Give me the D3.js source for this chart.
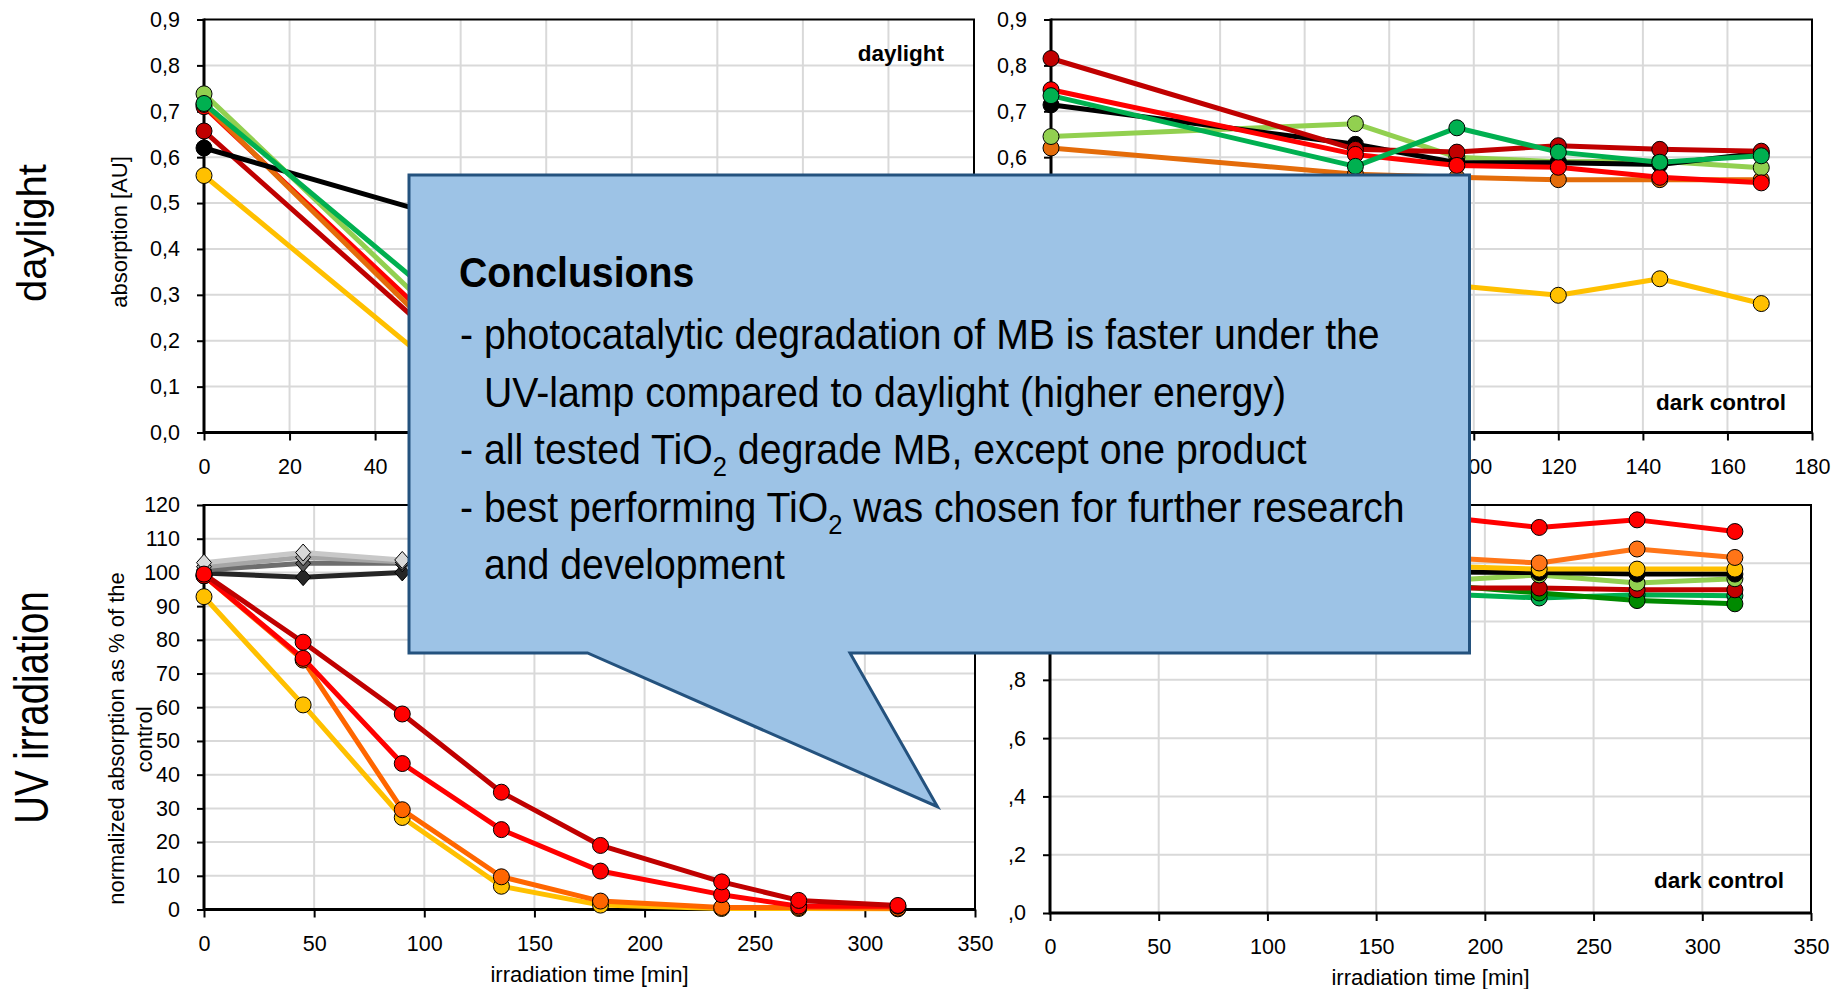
<!DOCTYPE html>
<html>
<head>
<meta charset="utf-8">
<script src="https://cdn.jsdelivr.net/npm/d3@7"></script>
<style>
  body { margin: 0; background: #fff; }
  svg text { font-family: "Liberation Sans", Arial, sans-serif; fill: #000; }
  .grid line { stroke: #D9D9D9; stroke-width: 2px; }
  .tick line { stroke: #000; stroke-width: 2px; }
  .tick text { font-size: 21.5px; font-family: "Liberation Sans", Arial, sans-serif; }
</style>
</head>
<body>
<script>
// ---- data ----
var dayTimes = [0, 72, 96, 120, 144, 168];
var dayTicksX = [0, 20, 40, 60, 80, 100, 120, 140, 160, 180];
var absTicksY = [0, 0.1, 0.2, 0.3, 0.4, 0.5, 0.6, 0.7, 0.8, 0.9];

// daylight (top left)
var dlYellow     = [0.56, 0.005, 0.01, 0.01, 0.01, 0.01];
var dlDarkRed    = [0.657, 0.06, 0.05, 0.04, 0.03, 0.03];
var dlRed        = [0.71, 0.08, 0.06, 0.05, 0.04, 0.03];
var dlOrange     = [0.715, 0.055, 0.04, 0.03, 0.03, 0.02];
var dlBlack      = [0.62, 0.427, 0.40, 0.38, 0.36, 0.34];
var dlLightGreen = [0.738, 0.10, 0.08, 0.06, 0.05, 0.04];
var dlGreen      = [0.717, 0.156, 0.12, 0.09, 0.07, 0.06];

// daylight dark control (top right)
var dcYellow     = [0.36, 0.33, 0.32, 0.299, 0.335, 0.281];
var dcOrange     = [0.62, 0.563, 0.556, 0.551, 0.551, 0.551];
var dcLightGreen = [0.645, 0.673, 0.60, 0.59, 0.591, 0.577];
var dcBlack      = [0.714, 0.628, 0.588, 0.588, 0.584, 0.609];
var dcDarkRed    = [0.815, 0.617, 0.611, 0.625, 0.617, 0.613];
var dcRed        = [0.747, 0.606, 0.582, 0.578, 0.556, 0.544];
var dcGreen      = [0.734, 0.58, 0.664, 0.611, 0.589, 0.603];

// UV irradiation (bottom left)
var uvTimes = [0, 45, 90, 135, 180, 235, 270, 315];
var uvTicksX = [0, 50, 100, 150, 200, 250, 300, 350];
var pctTicksY = [0, 10, 20, 30, 40, 50, 60, 70, 80, 90, 100, 110, 120];
var uvGray1   = [102.9, 105.9, 103.7, 103, 103, 102, 102, 102];
var uvGray2   = [101.7, 104.5, 103.2, 102.5, 102, 102, 101.5, 101.5];
var uvGray3   = [100.7, 102.7, 102.7, 102, 101.5, 101, 101, 101];
var uvGray4   = [99.8, 98.6, 100, 100, 99.5, 100, 99.5, 100];
var uvYellow  = [92.8, 60.7, 27.3, 6.9, 1.3, 0.3, 0.3, 0.2];
var uvOrange  = [99, 74, 29.6, 9.7, 2.5, 0.6, 0.6, 0.4];
var uvRed     = [99, 74.5, 43.3, 23.7, 11.4, 4.4, 1.0, 1.0];
var uvDarkRed = [99.5, 79.3, 58, 34.8, 19, 8.2, 2.7, 1.2];

// UV dark control (bottom right)
var ucTimes = [0, 45, 90, 135, 180, 225, 270, 315];
var ucTicksY = [0, 0.2, 0.4, 0.6, 0.8, 1.0, 1.2, 1.4];
var ucTeal       = [1.10, 1.09, 1.10, 1.09, 1.095, 1.081, 1.092, 1.089];
var ucDarkGreen  = [1.15, 1.14, 1.13, 1.13, 1.125, 1.098, 1.072, 1.061];
var ucDarkRed    = [1.12, 1.11, 1.12, 1.11, 1.115, 1.115, 1.109, 1.109];
var ucLightGreen = [1.17, 1.16, 1.15, 1.14, 1.14, 1.16, 1.132, 1.147];
var ucBlack      = [1.17, 1.17, 1.17, 1.17, 1.17, 1.168, 1.163, 1.163];
var ucYellow     = [1.19, 1.19, 1.19, 1.19, 1.19, 1.18, 1.18, 1.18];
var ucOrange     = [1.22, 1.21, 1.22, 1.21, 1.22, 1.201, 1.249, 1.22];
var ucRed        = [1.33, 1.34, 1.36, 1.35, 1.36, 1.323, 1.349, 1.309];

var calloutLines = [
  [["Conclusions", 0]],
  [["- photocatalytic degradation of MB is faster under the", 0]],
  [["UV-lamp compared to daylight (higher energy)", 0]],
  [["- all tested TiO", 0], ["2", 1], [" degrade MB, except one product", 0]],
  [["- best performing TiO", 0], ["2", 1], [" was chosen for further research", 0]],
  [["and development", 0]]
];

// ---- drawing ----
var svg = d3.select("body").append("svg")
    .attr("width", 1838)
    .attr("height", 989);

var comma1 = function (d) { return d3.format(".1f")(d).replace(".", ","); };

// the callout box hides part of the charts
var box = { x0: 409, y0: 175, x1: 1469.5, y1: 653 };

function panel(cfg) {
  var g = svg.append("g");
  if (cfg.cover) {
    g.append("rect").attr("x", cfg.cover[0]).attr("y", cfg.cover[1])
      .attr("width", cfg.cover[2]).attr("height", cfg.cover[3]).attr("fill", "#fff");
  }
  var x = d3.scaleLinear().domain(cfg.xDomain).range([cfg.left, cfg.right]);
  var y = d3.scaleLinear().domain(cfg.yDomain).range([cfg.bottom, cfg.top]);

  // grid
  var grid = g.append("g").attr("class", "grid");
  grid.selectAll("line.h").data(cfg.yTicks.slice(1, -1)).join("line")
      .attr("x1", cfg.left).attr("x2", cfg.right)
      .attr("y1", function (d) { return y(d); }).attr("y2", function (d) { return y(d); });
  grid.selectAll("line.v").data(cfg.xTicks.slice(1, -1)).join("line")
      .attr("y1", cfg.top).attr("y2", cfg.bottom)
      .attr("x1", function (d) { return x(d); }).attr("x2", function (d) { return x(d); });

  // frame (top, right)
  g.append("path")
      .attr("d", "M" + cfg.left + "," + cfg.top + "H" + cfg.right + "V" + cfg.bottom)
      .attr("fill", "none").attr("stroke", "#000").attr("stroke-width", 2);

  // axes
  g.append("g").attr("transform", "translate(" + cfg.left + ",0)")
      .call(d3.axisLeft(y).tickValues(cfg.yTicks).tickSize(7).tickPadding(17).tickFormat(cfg.yFmt))
      .call(function (a) { a.select(".domain").remove(); });
  g.append("g").attr("transform", "translate(0," + cfg.bottom + ")")
      .call(d3.axisBottom(x).tickValues(cfg.xTicks).tickSize(8).tickPadding(18).tickFormat(d3.format("d")))
      .call(function (a) { a.select(".domain").remove(); });
  g.append("path")
      .attr("d", "M" + cfg.left + "," + (cfg.top - 1) + "V" + cfg.bottom + "H" + (cfg.right + 1))
      .attr("fill", "none").attr("stroke", "#000").attr("stroke-width", 3);

  var line = d3.line().x(function (d) { return x(d[0]); }).y(function (d) { return y(d[1]); });

  cfg.series.forEach(function (s) {
    var pts = d3.zip(cfg.times, s.values);
    g.append("path").datum(pts).attr("d", line)
        .attr("fill", "none").attr("stroke", s.line)
        .attr("stroke-width", 5).attr("stroke-linejoin", "round");
    if (s.shape === "diamond") {
      g.selectAll(null).data(pts).join("path")
          .attr("d", "M0,-8.5L7.5,0L0,8.5L-7.5,0Z")
          .attr("transform", function (d) { return "translate(" + x(d[0]) + "," + y(d[1]) + ")"; })
          .attr("fill", s.fill).attr("stroke", "#000").attr("stroke-width", 1);
    } else {
      g.selectAll(null).data(pts).join("circle")
          .attr("cx", function (d) { return x(d[0]); })
          .attr("cy", function (d) { return y(d[1]); })
          .attr("r", 8)
          .attr("fill", s.fill).attr("stroke", "#000").attr("stroke-width", 1);
    }
  });

  if (cfg.tag) {
    g.append("text").attr("x", cfg.tag[0]).attr("y", cfg.tag[1])
        .attr("text-anchor", "end").style("font-size", "22.5px").style("font-weight", "bold")
        .text(cfg.tag[2]);
  }
  if (cfg.xTitle) {
    g.append("text").attr("x", (cfg.left + cfg.right) / 2).attr("y", cfg.bottom + 72)
        .attr("text-anchor", "middle").style("font-size", "22px").text(cfg.xTitle);
  }

  // drop tick labels that sit completely under the callout box
  g.selectAll(".tick text").each(function () {
    var b = this.getBoundingClientRect();
    if (b.left >= box.x0 && b.right <= box.x1 && b.top >= box.y0 && b.bottom <= box.y1) {
      d3.select(this).remove();
    }
  });
  return g;
}

// top right: daylight dark control
panel({
  left: 1051, right: 1812, top: 19.5, bottom: 432.5,
  xDomain: [0, 180], yDomain: [0, 0.9], xTicks: dayTicksX, yTicks: absTicksY, yFmt: comma1,
  times: dayTimes, tag: [1786, 410, "dark control"],
  series: [
    { values: dcYellow, line: "#FFC000", fill: "#FFC000" },
    { values: dcOrange, line: "#E46C0A", fill: "#E46C0A" },
    { values: dcLightGreen, line: "#92D050", fill: "#92D050" },
    { values: dcBlack, line: "#000000", fill: "#000000" },
    { values: dcDarkRed, line: "#C00000", fill: "#C00000" },
    { values: dcRed, line: "#FF0000", fill: "#FF0000" },
    { values: dcGreen, line: "#00B050", fill: "#00B050" }
  ]
});

// bottom right: UV dark control
panel({
  left: 1050, right: 1811, top: 505, bottom: 913,
  xDomain: [0, 350], yDomain: [0, 1.4], xTicks: uvTicksX, yTicks: ucTicksY, yFmt: comma1,
  times: ucTimes, tag: [1784, 888, "dark control"], xTitle: "irradiation time [min]",
  series: [
    { values: ucTeal, line: "#00B050", fill: "#00B050" },
    { values: ucDarkGreen, line: "#008A00", fill: "#008A00" },
    { values: ucDarkRed, line: "#C00000", fill: "#C00000" },
    { values: ucLightGreen, line: "#92D050", fill: "#92D050" },
    { values: ucBlack, line: "#000000", fill: "#000000" },
    { values: ucYellow, line: "#FFC000", fill: "#FFC000" },
    { values: ucOrange, line: "#FF7518", fill: "#FF7518" },
    { values: ucRed, line: "#FF0000", fill: "#FF0000" }
  ]
});

// bottom left: UV irradiation
panel({
  cover: [0, 482, 1008, 507],
  left: 204, right: 975, top: 505, bottom: 909.5,
  xDomain: [0, 350], yDomain: [0, 120], xTicks: uvTicksX, yTicks: pctTicksY, yFmt: d3.format("d"),
  times: uvTimes, xTitle: "irradiation time [min]",
  series: [
    { values: uvGray4, line: "#262626", fill: "#262626", shape: "diamond" },
    { values: uvGray3, line: "#6E6E6E", fill: "#595959", shape: "diamond" },
    { values: uvGray2, line: "#A6A6A6", fill: "#A6A6A6", shape: "diamond" },
    { values: uvGray1, line: "#C8C8C8", fill: "#D9D9D9", shape: "diamond" },
    { values: uvYellow, line: "#FFC000", fill: "#FFC000" },
    { values: uvOrange, line: "#FF6600", fill: "#FF6600" },
    { values: uvRed, line: "#FF0000", fill: "#FF0000" },
    { values: uvDarkRed, line: "#C00000", fill: "#FF0000" }
  ]
});

// top left: daylight
panel({
  left: 204, right: 974, top: 19.5, bottom: 432.5,
  xDomain: [0, 180], yDomain: [0, 0.9], xTicks: dayTicksX, yTicks: absTicksY, yFmt: comma1,
  times: dayTimes, tag: [944, 61, "daylight"],
  series: [
    { values: dlYellow, line: "#FFC000", fill: "#FFC000" },
    { values: dlDarkRed, line: "#C00000", fill: "#C00000" },
    { values: dlRed, line: "#FF0000", fill: "#FF0000" },
    { values: dlOrange, line: "#E46C0A", fill: "#E46C0A" },
    { values: dlBlack, line: "#000000", fill: "#000000" },
    { values: dlLightGreen, line: "#92D050", fill: "#92D050" },
    { values: dlGreen, line: "#00B050", fill: "#00B050" }
  ]
});

// axis titles and row labels
function vtext(x, y, size, sx, str) {
  svg.append("text")
      .attr("transform", "translate(" + x + "," + y + ") rotate(-90) scale(" + sx + ",1)")
      .attr("text-anchor", "middle").style("font-size", size + "px").text(str);
}
vtext(127, 232, 22, 1, "absorption [AU]");
vtext(124, 738.5, 22, 1, "normalized absorption as % of the");
vtext(152, 739.5, 22, 1, "control");
vtext(46, 233, 40, 1, "daylight");
vtext(48, 707.5, 48, 0.8, "UV irradiation");

// callout
svg.append("path")
    .attr("d", "M" + box.x0 + "," + box.y0 + "H" + box.x1 + "V" + box.y1 +
               "H850L937.5,806.7L587.5," + box.y1 + "H" + box.x0 + "Z")
    .attr("fill", "#9DC3E6").attr("stroke", "#24527E").attr("stroke-width", 3)
    .attr("stroke-linejoin", "miter");

var lineX = [459, 460, 484, 460, 460, 484];
var lineY = [287, 349, 406.5, 464, 521.5, 579];
calloutLines.forEach(function (parts, i) {
  var t = svg.append("text")
      .attr("transform", "translate(" + lineX[i] + "," + lineY[i] + ") scale(0.912,1)")
      .style("font-size", "43px")
      .style("font-weight", i === 0 ? "bold" : "normal");
  parts.forEach(function (p) {
    var ts = t.append("tspan").text(p[0]);
    if (p[1]) ts.style("font-size", "28px").attr("dy", 12);
    else if (t.selectAll("tspan").size() > 1) ts.attr("dy", -12);
  });
});
</script>
</body>
</html>
